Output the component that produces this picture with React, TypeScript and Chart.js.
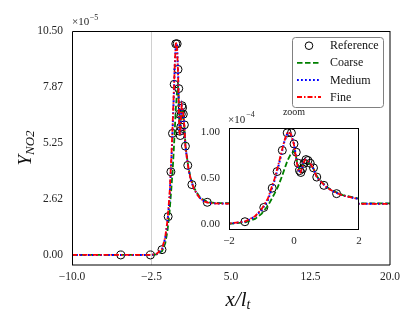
import React, { useEffect, useRef } from 'react';
import { Chart, registerables } from 'chart.js';

Chart.register(...registerables);

const SERIF = '"Liberation Serif", "Times New Roman", serif';
const TICK_COLOR = '#262626';

// ticks
const xTickValues = [-10, -2.5, 5, 12.5, 20];
const xTickLabels = ['\u221210.0', '\u22122.5', '5.0', '12.5', '20.0'];
const yTickValues = [0, 2.625, 5.25, 7.875, 10.5];
const yTickLabels = ['0.00', '2.62', '5.25', '7.87', '10.50'];
const insetXTickValues = [-2, 0, 2];
const insetXTickLabels = ['\u22122', '0', '2'];
const insetYTickValues = [0, 0.5, 1];
const insetYTickLabels = ['0.00', '0.50', '1.00'];

const seriesNames = ['Reference', 'Coarse', 'Medium', 'Fine'];

// axis ranges
const xRange = [-10, 20];
const yRange = [-0.47, 10.5];
const insetXRange = [-2, 2];
const insetYRange = [-0.054, 1.043];

// reference line position
const vlineX = -2.5;

// Reference (circles), values in units of 1e-5
const refX = [-5.4, -2.6, -1.51, -0.93, -0.67, -0.52, -0.36, -0.21, -0.08, 0.0, 0.07, 0.13, 0.17, 0.21, 0.26, 0.31, 0.37, 0.43, 0.5, 0.6, 0.7, 0.92, 1.31, 2.76];
const refY = [0.0, 0.0, 0.25, 1.8, 3.9, 5.7, 8.0, 9.9, 9.9, 8.7, 7.8, 6.6, 5.8, 5.6, 6.0, 6.6, 7.0, 6.9, 6.6, 6.1, 5.1, 4.2, 3.3, 2.47];

// simulation x positions
const gridX = [-10, -5, -3, -2.5, -2, -1.5, -1.2, -1.0, -0.8, -0.6, -0.5, -0.4, -0.3, -0.2, -0.1, 0, 0.05, 0.1, 0.15, 0.2, 0.25, 0.3, 0.35, 0.4, 0.5, 0.6, 0.7, 0.8, 1.0, 1.2, 1.5, 2.0, 2.5, 3.0, 4.0, 6, 10, 15, 20];
// values in units of 1e-5
const coarseY = [0, 0, 0, 0.0, 0.03, 0.18, 0.55, 1.1, 2.0, 3.3, 4.0, 4.9, 5.9, 6.9, 7.6, 7.9, 7.5, 6.7, 6.1, 6.0, 6.2, 6.6, 6.8, 6.8, 6.5, 6.0, 5.2, 4.75, 4.05, 3.6, 3.15, 2.75, 2.55, 2.46, 2.43, 2.42, 2.42, 2.42, 2.42];
const mediumY = [0, 0, 0, 0.0, 0.05, 0.25, 0.8, 1.5, 2.6, 4.7, 6.0, 7.4, 8.9, 9.9, 9.9, 8.7, 7.6, 6.5, 5.8, 5.6, 6.1, 6.7, 7.0, 6.9, 6.6, 6.0, 5.1, 4.7, 4.0, 3.55, 3.1, 2.7, 2.5, 2.43, 2.41, 2.4, 2.4, 2.4, 2.4];
const fineY = [0, 0, 0, 0.0, 0.06, 0.28, 0.85, 1.6, 2.8, 4.9, 6.2, 7.6, 9.0, 10.0, 9.8, 8.6, 7.5, 6.4, 5.7, 5.6, 6.1, 6.7, 7.0, 6.9, 6.6, 6.0, 5.1, 4.7, 4.0, 3.55, 3.1, 2.7, 2.5, 2.43, 2.41, 2.4, 2.4, 2.4, 2.4];

const seriesStyles = [
  { color: '#000000', dash: [] as number[], width: 1 },
  { color: '#008000', dash: [5.5, 2.5], width: 1.8 },
  { color: '#0000ff', dash: [1.8, 2.2], width: 2 },
  { color: '#ff0000', dash: [5, 2, 1.5, 2], width: 1.8 },
];

function buildDatasets(div: number) {
  const pts = (ys: number[]) => gridX.map((x, i) => ({ x, y: ys[i] / div }));
  const lineSeries = [coarseY, mediumY, fineY];
  const ds: any[] = [
    {
      label: seriesNames[0],
      data: refX.map((x, i) => ({ x, y: refY[i] / div })),
      showLine: false,
      pointRadius: 4,
      pointStyle: 'circle',
      pointBorderColor: '#000',
      pointBackgroundColor: 'rgba(0,0,0,0)',
      pointBorderWidth: 1,
      borderColor: '#000',
      backgroundColor: 'rgba(0,0,0,0)',
      order: 5,
    },
  ];
  lineSeries.forEach((ys, k) => {
    const st = seriesStyles[k + 1];
    ds.push({
      label: seriesNames[k + 1],
      data: pts(ys),
      showLine: true,
      borderColor: st.color,
      backgroundColor: st.color,
      borderWidth: st.width,
      borderDash: st.dash,
      pointRadius: 0,
      tension: 0,
      fill: false,
      order: 3 - k,
    });
  });
  return ds;
}

function drawMath(ctx: CanvasRenderingContext2D, parts: { t: string; size: number; dy: number; italic: boolean }[], cx: number, baseY: number) {
  let total = 0;
  const widths = parts.map((p) => {
    ctx.font = `${p.italic ? 'italic ' : ''}${p.size}px ${SERIF}`;
    const w = ctx.measureText(p.t).width;
    total += w;
    return w;
  });
  let x = cx - total / 2;
  ctx.textBaseline = 'alphabetic';
  ctx.textAlign = 'left';
  parts.forEach((p, i) => {
    ctx.font = `${p.italic ? 'italic ' : ''}${p.size}px ${SERIF}`;
    ctx.fillText(p.t, x, baseY + p.dy);
    x += widths[i];
  });
}

const mainDecor = {
  id: 'mainDecor',
  afterDraw(chart: any) {
    const { ctx, chartArea: a } = chart;
    ctx.save();
    // frame
    ctx.lineWidth = 1;
    ctx.strokeStyle = '#000';
    ctx.beginPath();
    ctx.moveTo(a.left + 0.5, a.bottom);
    ctx.lineTo(a.left + 0.5, a.top + 0.5);
    ctx.lineTo(a.right, a.top + 0.5);
    ctx.stroke();
    ctx.beginPath();
    ctx.moveTo(a.right, a.top);
    ctx.lineTo(a.right, a.bottom);
    ctx.lineTo(a.left, a.bottom);
    ctx.stroke();

    // offset text
    ctx.fillStyle = TICK_COLOR;
    ctx.textBaseline = 'alphabetic';
    ctx.textAlign = 'left';
    ctx.font = `11px ${SERIF}`;
    ctx.fillText('\u00d710', a.left, 25);
    const w = ctx.measureText('\u00d710').width;
    ctx.font = `8px ${SERIF}`;
    ctx.fillText('\u22125', a.left + w + 0.5, 19.5);

    // axis titles
    ctx.fillStyle = '#111';
    drawMath(ctx, [
      { t: 'x/l', size: 21, dy: 0, italic: true },
      { t: 't', size: 14, dy: 3, italic: true },
    ], 238, 306);
    ctx.save();
    ctx.translate(24, (a.top + a.bottom) / 2);
    ctx.rotate(-Math.PI / 2);
    drawMath(ctx, [
      { t: 'Y', size: 19, dy: 0, italic: true },
      { t: 'NO2', size: 13, dy: 3, italic: true },
    ], 0, 6.5);
    ctx.restore();

    // legend
    const bx = 292.5, by = 37.5, bw = 91, bh = 70, r = 3;
    ctx.beginPath();
    ctx.moveTo(bx + r, by);
    ctx.lineTo(bx + bw - r, by);
    ctx.quadraticCurveTo(bx + bw, by, bx + bw, by + r);
    ctx.lineTo(bx + bw, by + bh - r);
    ctx.quadraticCurveTo(bx + bw, by + bh, bx + bw - r, by + bh);
    ctx.lineTo(bx + r, by + bh);
    ctx.quadraticCurveTo(bx, by + bh, bx, by + bh - r);
    ctx.lineTo(bx, by + r);
    ctx.quadraticCurveTo(bx, by, bx + r, by);
    ctx.closePath();
    ctx.fillStyle = 'rgba(255,255,255,0.9)';
    ctx.fill();
    ctx.strokeStyle = '#808080';
    ctx.lineWidth = 1;
    ctx.stroke();

    seriesNames.forEach((name, i) => {
      const cy = 45.7 + i * 17.1;
      const st = seriesStyles[i];
      if (i === 0) {
        ctx.beginPath();
        ctx.setLineDash([]);
        ctx.strokeStyle = '#000';
        ctx.lineWidth = 1;
        ctx.arc(309, cy, 3.8, 0, Math.PI * 2);
        ctx.stroke();
      } else {
        ctx.beginPath();
        ctx.setLineDash(st.dash);
        ctx.strokeStyle = st.color;
        ctx.lineWidth = st.width;
        ctx.moveTo(297, cy);
        ctx.lineTo(321, cy);
        ctx.stroke();
        ctx.setLineDash([]);
      }
      ctx.fillStyle = '#111';
      ctx.font = `12px ${SERIF}`;
      ctx.textBaseline = 'middle';
      ctx.textAlign = 'left';
      ctx.fillText(name, 330, cy + 0.5);
    });
    ctx.restore();
  },
};

const insetDecor = {
  id: 'insetDecor',
  beforeDraw(chart: any) {
    const { ctx, chartArea: a } = chart;
    ctx.save();
    ctx.fillStyle = '#ffffff';
    ctx.fillRect(a.left, a.top, a.right - a.left, a.bottom - a.top);
    ctx.restore();
  },
  afterDraw(chart: any) {
    const { ctx, chartArea: a } = chart;
    ctx.save();
    ctx.strokeStyle = '#000';
    ctx.lineWidth = 1;
    ctx.strokeRect(a.left + 0.5, a.top + 0.5, a.right - a.left - 1, a.bottom - a.top);
    ctx.fillStyle = TICK_COLOR;
    ctx.textBaseline = 'alphabetic';
    ctx.textAlign = 'left';
    ctx.font = `11px ${SERIF}`;
    ctx.fillText('\u00d710', a.left - 1, 13.5);
    const w = ctx.measureText('\u00d710').width;
    ctx.font = `8px ${SERIF}`;
    ctx.fillText('\u22124', a.left - 1 + w + 1, 8);
    ctx.font = `10px ${SERIF}`;
    ctx.textAlign = 'center';
    ctx.fillText('zoom', (a.left + a.right) / 2, 5.5);
    ctx.restore();
  },
};

function makeScales(
  xr: number[], yr: number[], xv: number[], xl: string[], yv: number[], yl: string[],
  yWidth: number, xHeight: number, fontSize: number, xPad: number, yPad: number,
) {
  return {
    x: {
      type: 'linear',
      min: xr[0],
      max: xr[1],
      grid: { display: false, drawTicks: false, tickLength: 0 },
      border: { display: false },
      afterBuildTicks: (s: any) => { s.ticks = xv.map((v) => ({ value: v })); },
      afterFit: (s: any) => { s.height = xHeight; },
      ticks: {
        padding: xPad,
        color: TICK_COLOR,
        font: { family: SERIF, size: fontSize },
        maxRotation: 0,
        autoSkip: false,
        callback: (_v: any, i: number) => xl[i],
      },
    },
    y: {
      type: 'linear',
      min: yr[0],
      max: yr[1],
      grid: { display: false, drawTicks: false, tickLength: 0 },
      border: { display: false },
      afterBuildTicks: (s: any) => { s.ticks = yv.map((v) => ({ value: v })); },
      afterFit: (s: any) => { s.width = yWidth; },
      ticks: {
        padding: yPad,
        color: TICK_COLOR,
        font: { family: SERIF, size: fontSize },
        autoSkip: false,
        callback: (_v: any, i: number) => yl[i],
      },
    },
  };
}

export default function App() {
  const mainRef = useRef<HTMLCanvasElement>(null);
  const insetRef = useRef<HTMLCanvasElement>(null);

  useEffect(() => {
    const mainDatasets = buildDatasets(1);
    mainDatasets.push({
      label: 'marker',
      data: [{ x: vlineX, y: yRange[0] }, { x: vlineX, y: yRange[1] }],
      showLine: true,
      borderColor: '#d0d0d0',
      borderWidth: 1,
      pointRadius: 0,
      order: 10,
    });
    const main = new Chart(mainRef.current as HTMLCanvasElement, {
      type: 'scatter',
      data: { datasets: mainDatasets },
      options: {
        responsive: false,
        animation: false,
        devicePixelRatio: 1,
        events: [],
        layout: { padding: { top: 31, right: 26, left: 0, bottom: 0 } },
        plugins: { legend: { display: false }, tooltip: { enabled: false }, title: { display: false } },
        scales: makeScales(xRange, yRange, xTickValues, xTickLabels, yTickValues, yTickLabels, 72, 58, 11.5, 5, 9) as any,
      },
      plugins: [mainDecor],
    } as any);

    const inset = new Chart(insetRef.current as HTMLCanvasElement, {
      type: 'scatter',
      data: { datasets: buildDatasets(10) },
      options: {
        responsive: false,
        animation: false,
        devicePixelRatio: 1,
        events: [],
        layout: { padding: { top: 19, right: 13, left: 0, bottom: 0 } },
        plugins: { legend: { display: false }, tooltip: { enabled: false }, title: { display: false } },
        scales: makeScales(insetXRange, insetYRange, insetXTickValues, insetXTickLabels, insetYTickValues, insetYTickLabels, 33, 25, 11, 6, 9) as any,
      },
      plugins: [insetDecor],
    } as any);

    return () => {
      main.destroy();
      inset.destroy();
    };
  }, []);

  return (
    <div style={{ position: 'fixed', left: 0, top: 0, width: 416, height: 323, background: '#ffffff' }}>
      <canvas ref={mainRef} width={416} height={323} style={{ position: 'absolute', left: 0, top: 0, width: 416, height: 323 }} />
      <canvas ref={insetRef} width={176} height={145} style={{ position: 'absolute', left: 196, top: 109, width: 176, height: 145 }} />
    </div>
  );
}
